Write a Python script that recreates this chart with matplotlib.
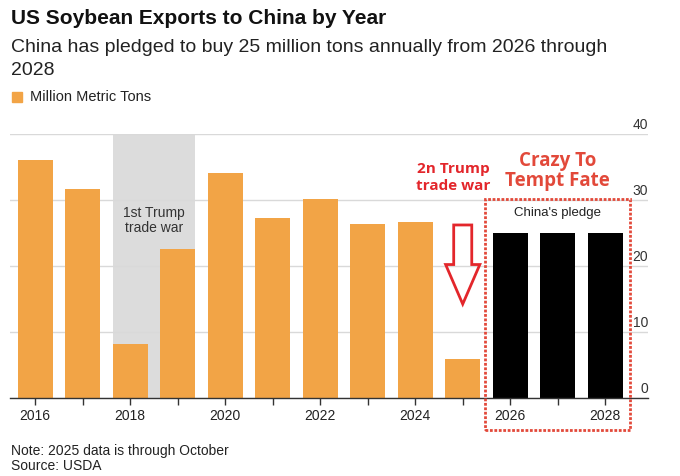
import numpy as np
import matplotlib
matplotlib.use("Agg")
import matplotlib.pyplot as plt
import matplotlib.patches as mpatches
import matplotlib.transforms as mtransforms

plt.rcParams['font.family'] = ['Liberation Sans', 'DejaVu Sans']

years = [2016, 2017, 2018, 2019, 2020, 2021, 2022, 2023, 2024, 2025]
tons = [36.0, 31.6, 8.2, 22.5, 34.1, 27.3, 30.1, 26.3, 26.7, 5.9]
pledge_years = [2026, 2027, 2028]
pledge_tons = [25, 25, 25]
y_ticks = [0, 10, 20, 30, 40]
x_labels = [2016, 2018, 2020, 2022, 2024, 2026, 2028]

orange = '#F2A446'
red = '#E3262B'
red2 = '#E2493A'

fig = plt.figure(figsize=(6.8, 4.76), dpi=100)
ax = fig.add_axes([10/680, 1-397.7/476, 638/680, (397.7-134)/476])

# shaded first trade war period
ax.axvspan(2017.63, 2019.37, color='#DCDCDC', zorder=0, lw=0)

ax.bar(years, tons, width=0.74, color=orange, zorder=2)
ax.bar(pledge_years, pledge_tons, width=0.74, color='black', zorder=2)

ax.set_xlim(2015.47, 2028.9)
ax.set_ylim(0, 40)

for s in ['left', 'right', 'top']:
    ax.spines[s].set_visible(False)
ax.spines['bottom'].set_color('#333333')
ax.spines['bottom'].set_linewidth(1)
ax.spines['bottom'].set_zorder(3)

ax.set_axisbelow(True)
ax.set_yticks(y_ticks)
ax.yaxis.grid(True, color='#D9D9D9', lw=1)
ax.yaxis.tick_right()
ax.tick_params(axis='y', length=0, pad=0, labelsize=10, labelcolor='#333333')
off = mtransforms.ScaledTranslation(0, 10.5/100, fig.dpi_scale_trans)
for lab in ax.get_yticklabels():
    lab.set_horizontalalignment('right')
    lab.set_transform(lab.get_transform() + off)

ax.set_xticks(range(2016, 2029))
ax.set_xticklabels([str(y) if y in x_labels else '' for y in range(2016, 2029)])
ax.tick_params(axis='x', length=5, width=1, color='#333333', labelsize=10, labelcolor='#222222', pad=3)

ax.text(2018.5, 26.9, '1st Trump\ntrade war', ha='center', va='center', fontsize=10,
        color='#333333', zorder=3, linespacing=1.05)
ax.text(2027.0, 28.0, "China's pledge", ha='center', va='center', fontsize=9.5,
        color='#222222', zorder=3)

# annotations
ax.text(2024.8, 33.4, '2n Trump\ntrade war', ha='center', va='center', fontsize=11,
        fontweight='bold', color=red, family=['Open Sans', 'DejaVu Sans'], linespacing=1.25)
ax.text(2027.0, 34.4, 'Crazy To\nTempt Fate', ha='center', va='center', fontsize=13.5,
        fontweight='bold', color=red2, family=['Open Sans', 'DejaVu Sans'], linespacing=1.05)
arrow = mpatches.FancyArrow(2025.0, 26.2, 0, -12.0, width=0.38, head_width=0.72,
                            head_length=6.0, length_includes_head=True,
                            facecolor='none', edgecolor=red, lw=2, zorder=4)
ax.add_patch(arrow)
box = mpatches.Rectangle((2025.47, -4.9), 3.06, 35.0, fill=False, edgecolor=red2,
                         lw=2, linestyle=(0, (1, 0.6)), clip_on=False, zorder=5)
ax.add_patch(box)

# titles
fig.text(11/680, 1-24/476, 'US Soybean Exports to China by Year', fontsize=15,
         fontweight='bold', color='#111111', va='baseline')
fig.text(11/680, 1-52/476, 'China has pledged to buy 25 million tons annually from 2026 through',
         fontsize=14, color='#222222', va='baseline')
fig.text(11/680, 1-75/476, '2028', fontsize=14, color='#222222', va='baseline')
fig.patches.append(mpatches.Rectangle((12/680, 1-102/476), 10/680, 10/476,
                                      transform=fig.transFigure, color=orange))
fig.text(30/680, 1-97/476, 'Million Metric Tons', fontsize=10.5, color='#222222', va='center')

fig.text(11/680, 1-455/476, 'Note: 2025 data is through October', fontsize=10,
         color='#222222', va='baseline')
fig.text(11/680, 1-470/476, 'Source: USDA', fontsize=10, color='#222222', va='baseline')

fig.savefig('out.png', dpi=100)
